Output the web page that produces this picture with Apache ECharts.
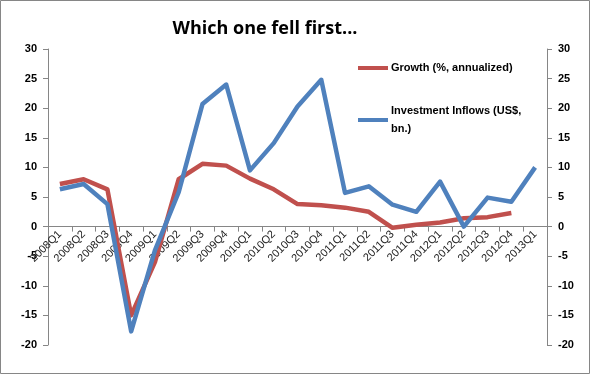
<!DOCTYPE html>
<html><head><meta charset="utf-8">
<script src="https://cdn.jsdelivr.net/npm/echarts@6/dist/echarts.min.js"></script>
<style>html,body{margin:0;padding:0;background:#fff}#c{width:590px;height:374px}</style>
</head><body><div id="c"></div>
<script>
const categories = ['2008Q1','2008Q2','2008Q3','2008Q4','2009Q1','2009Q2','2009Q3','2009Q4','2010Q1','2010Q2','2010Q3','2010Q4','2011Q1','2011Q2','2011Q3','2011Q4','2012Q1','2012Q2','2012Q3','2012Q4','2013Q1'];
const growth = [7.2, 8.0, 6.3, -15.0, -6.0, 8.0, 10.6, 10.3, 8.1, 6.3, 3.8, 3.6, 3.2, 2.5, -0.2, 0.3, 0.7, 1.4, 1.6, 2.3, null];
const inflows = [6.3, 7.2, 3.8, -17.7, -4.0, 5.8, 20.7, 24.0, 9.5, 14.1, 20.3, 24.8, 5.7, 6.8, 3.7, 2.5, 7.6, 0.0, 4.9, 4.2, 10.0];
const yTicks = {min: -20, max: 30, interval: 5};
const seriesNames = ['Growth (%, annualized)', 'Investment Inflows (US$, bn.)'];
const titleText = 'Which one fell first...';

const chart = echarts.init(document.getElementById('c'), null, {renderer: 'canvas'});
const axisGray = '#868686';
const gridTop = 49, gridBottom = 29, H = 374;
const zeroOffset = (H - gridBottom - gridTop) * yTicks.max / (yTicks.max - yTicks.min);
const bottomToZero = (H - gridBottom) - (gridTop + zeroOffset);
const yAxisCommon = {
  type: 'value', min: yTicks.min, max: yTicks.max, interval: yTicks.interval,
  splitLine: {show: false},
  axisLine: {show: true, lineStyle: {color: axisGray, width: 1}},
  axisTick: {show: true, inside: false, length: 5, lineStyle: {color: axisGray}},
  axisLabel: {fontFamily: 'Liberation Sans', fontWeight: 'bold', fontSize: 11, color: '#000', margin: 11}
};
chart.setOption({
  animation: false,
  title: {text: titleText, left: 260, textAlign: 'center', top: 15,
    textStyle: {fontFamily: 'Open Sans', fontWeight: 'bold', fontSize: 18, color: '#000'}},
  graphic: [{type: 'rect', shape: {x: 0.5, y: 0.5, width: 589, height: 373},
    style: {fill: 'none', stroke: '#868686', lineWidth: 1}, silent: true}],
  legend: {
    orient: 'vertical', left: 353, top: 54, itemGap: 25,
    icon: 'rect', itemWidth: 30, itemHeight: 4,
    data: seriesNames,
    formatter: n => n === seriesNames[1] ? 'Investment Inflows (US$,\nbn.)' : n,
    textStyle: {fontFamily: 'Liberation Sans', fontWeight: 'bold', fontSize: 11, color: '#000', lineHeight: 18, padding: [0, 0, 0, -2]}
  },
  grid: {left: 48, right: 43, top: gridTop, bottom: gridBottom, containLabel: false, outerBoundsMode: 'none'},
  xAxis: {
    type: 'category', data: categories, boundaryGap: true,
    offset: -bottomToZero,
    axisLine: {onZero: false, lineStyle: {color: axisGray, width: 1}},
    axisTick: {show: true, interval: 0, length: 5, lineStyle: {color: axisGray}},
    axisLabel: {interval: 0, rotate: 45, fontFamily: 'Liberation Sans', fontSize: 11, color: '#222', margin: 6}
  },
  yAxis: [
    Object.assign({}, yAxisCommon, {position: 'left'}),
    Object.assign({}, yAxisCommon, {position: 'right'})
  ],
  series: [
    {name: seriesNames[0], type: 'line', data: growth, yAxisIndex: 0, symbol: 'none',
      lineStyle: {color: '#C0504D', width: 4.5, join: 'round'}, itemStyle: {color: '#C0504D'}},
    {name: seriesNames[1], type: 'line', data: inflows, yAxisIndex: 1, symbol: 'none',
      lineStyle: {color: '#4F81BD', width: 4.5, join: 'round'}, itemStyle: {color: '#4F81BD'}}
  ]
});
</script></body></html>
